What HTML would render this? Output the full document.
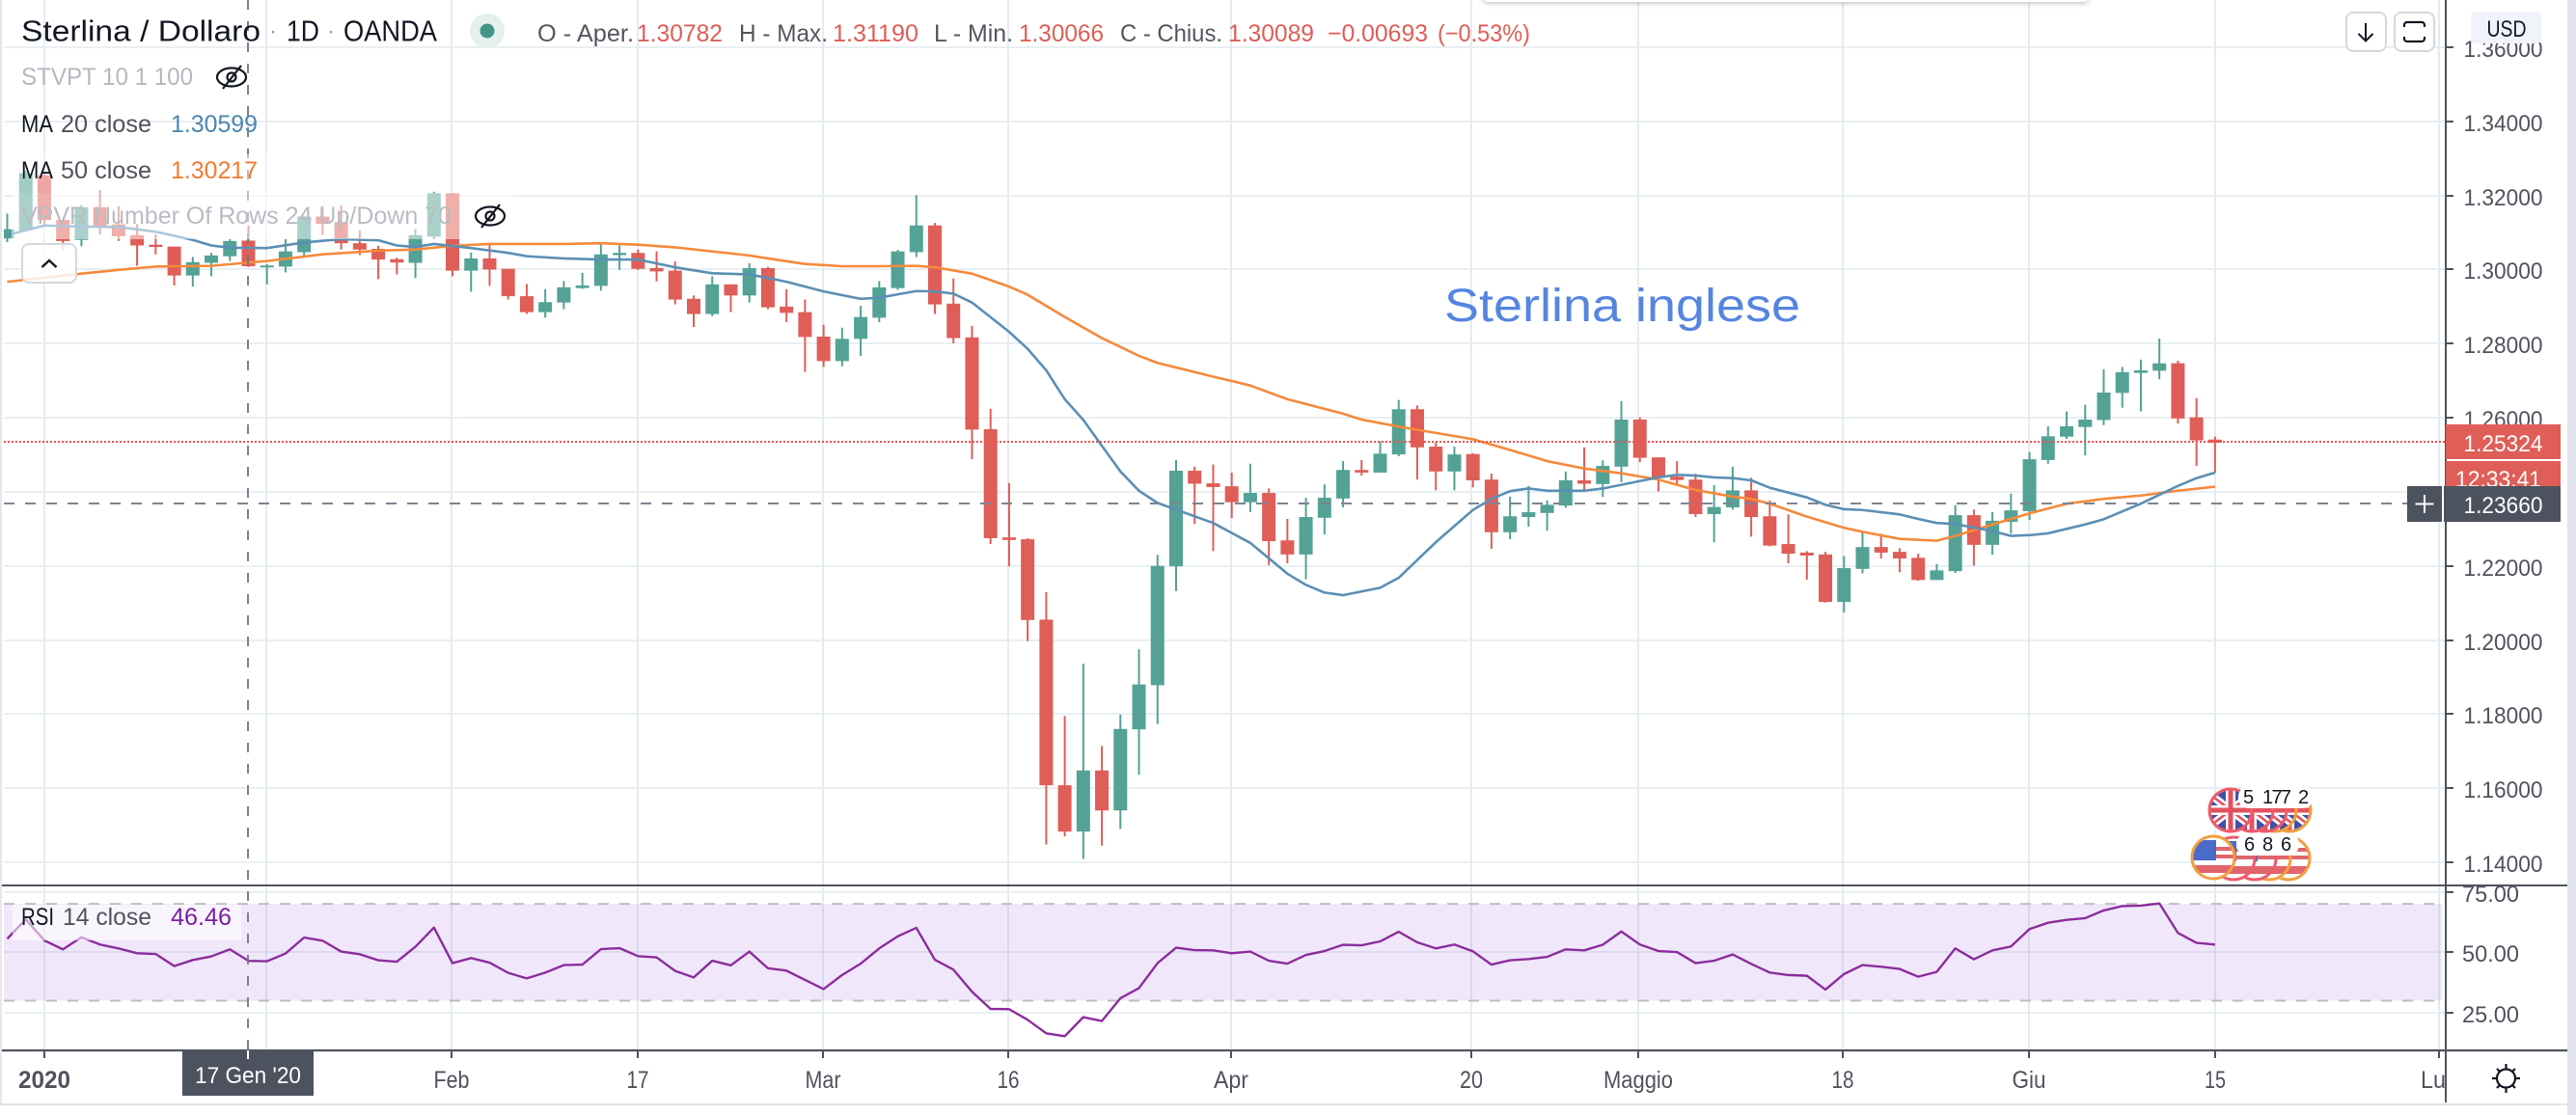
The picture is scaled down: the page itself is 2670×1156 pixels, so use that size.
<!DOCTYPE html>
<html lang="it">
<head>
<meta charset="utf-8">
<title>Sterlina / Dollaro 1D OANDA</title>
<style>
html,body{margin:0;padding:0;background:#fff;width:2670px;height:1156px;overflow:hidden}
svg{display:block;font-family:"Liberation Sans",sans-serif}
</style>
</head>
<body>
<svg id="chart" xmlns="http://www.w3.org/2000/svg" width="2670" height="1156" viewBox="0 0 2670 1156">
<defs>
<clipPath id="price-clip"><rect x="4" y="0" width="2531" height="917"/></clipPath>
<clipPath id="timer-clip"><rect x="2536" y="478" width="118" height="27"/></clipPath>
<clipPath id="lu-clip"><rect x="2490" y="1090" width="44" height="50"/></clipPath>
<clipPath id="flag-circle"><circle cx="0" cy="0" r="22"/></clipPath>
<g id="uk-flag">
<g clip-path="url(#flag-circle)">
<rect x="-22" y="-22" width="44" height="44" fill="#4350a8"/>
<path d="M-22 -17L22 17M22 -17L-22 17" stroke="#fff" stroke-width="8"/>
<path d="M-22 -17L22 17M22 -17L-22 17" stroke="#e3525f" stroke-width="2.5"/>
<path d="M0 -22V22M-22 0H22" stroke="#fff" stroke-width="10"/>
<path d="M0 -22V22M-22 0H22" stroke="#e3525f" stroke-width="5"/>
</g>
</g>
<g id="us-flag">
<g clip-path="url(#flag-circle)">
<rect x="-22" y="-22" width="44" height="44" fill="#fff"/>
<path d="M-22 -9H22M-22 -1H22" stroke="#e0656c" stroke-width="4"/>
<rect x="-22" y="8" width="44" height="8" fill="#e0656c"/>
<rect x="-22" y="-18" width="25" height="21" fill="#4a6bc8"/>
</g>
</g>
</defs>

<rect x="0" y="0" width="2670" height="1156" fill="#ffffff"/>
<rect x="0" y="0" width="2" height="1146" fill="#e4e7ee"/>
<rect x="2661" y="0" width="9" height="1156" fill="#e0e3eb"/>
<rect x="0" y="1144" width="2661" height="2" fill="#e0e3eb"/>

<g id="grid"></g>
<g id="rsi-pane"></g>
<g id="price-pane" clip-path="url(#price-clip)"></g>

<line x1="4" x2="2535" y1="458" y2="458" stroke="#e8554f" stroke-width="2" stroke-dasharray="2 2"/>
<line x1="4" x2="2535" y1="522" y2="522" stroke="#7c8490" stroke-width="2" stroke-dasharray="11 11"/>
<line x1="257" x2="257" y1="0" y2="1100" stroke="#6f7784" stroke-width="1.8" stroke-dasharray="10 12"/>

<text x="1497" y="333" font-size="48" fill="#5585e0" textLength="369" lengthAdjust="spacingAndGlyphs">Sterlina inglese</text>

<g>
<use href="#uk-flag" x="2373" y="840"/><circle cx="2373" cy="840" r="22" fill="none" stroke="#f0a040" stroke-width="3"/>
<use href="#uk-flag" x="2358" y="840"/><circle cx="2358" cy="840" r="22" fill="none" stroke="#f0a040" stroke-width="3"/>
<use href="#uk-flag" x="2348" y="840"/><circle cx="2348" cy="840" r="22" fill="none" stroke="#ee5b6a" stroke-width="3"/>
<use href="#uk-flag" x="2334" y="840"/><circle cx="2334" cy="840" r="22" fill="none" stroke="#ee5b6a" stroke-width="3"/>
<use href="#uk-flag" x="2312" y="840"/><circle cx="2312" cy="840" r="22" fill="none" stroke="#ee5b6a" stroke-width="3"/>
<rect x="2320" y="815" width="78" height="23" rx="11" fill="#ffffff"/>
<g font-size="20" fill="#131722">
<text x="2325" y="833">5</text>
<text x="2345" y="833" textLength="30" lengthAdjust="spacing">177</text>
<text x="2382" y="833">2</text>
</g>
<use href="#us-flag" x="2372" y="890"/><circle cx="2372" cy="890" r="22" fill="none" stroke="#f0a040" stroke-width="3"/>
<use href="#us-flag" x="2352" y="890"/><circle cx="2352" cy="890" r="22" fill="none" stroke="#f0a040" stroke-width="3"/>
<use href="#us-flag" x="2337" y="890"/><circle cx="2337" cy="890" r="22" fill="none" stroke="#ee5b6a" stroke-width="3"/>
<use href="#us-flag" x="2315" y="890"/><circle cx="2315" cy="890" r="22" fill="none" stroke="#ee5b6a" stroke-width="3"/>
<rect x="2318" y="864" width="65" height="23" rx="11" fill="#ffffff"/>
<use href="#us-flag" x="2294" y="889"/><circle cx="2294" cy="889" r="22" fill="none" stroke="#f0a040" stroke-width="3"/>
<g font-size="20" fill="#131722">
<text x="2326" y="882">6</text>
<text x="2345" y="882">8</text>
<text x="2364" y="882">6</text>
</g>
</g>

<!-- legend overlays -->
<rect x="12" y="160" width="270" height="40" fill="#fff" fill-opacity="0.45"/>
<rect x="12" y="200" width="525" height="48" fill="#fff" fill-opacity="0.5"/>

<g>
<text x="22" y="42.5" font-size="31" fill="#131722" textLength="248" lengthAdjust="spacingAndGlyphs">Sterlina / Dollaro</text>
<text x="279" y="40" font-size="24" fill="#9598a1">·</text>
<text x="297" y="42.5" font-size="31" fill="#131722" textLength="34" lengthAdjust="spacingAndGlyphs">1D</text>
<text x="339" y="40" font-size="24" fill="#9598a1">·</text>
<text x="356" y="42.5" font-size="31" fill="#131722" textLength="97" lengthAdjust="spacingAndGlyphs">OANDA</text>
<circle cx="505" cy="32" r="18" fill="#e3f0ee"/>
<circle cx="505" cy="32" r="7.5" fill="#419588"/>
<text x="557" y="43" font-size="25" fill="#53565f" textLength="100" lengthAdjust="spacingAndGlyphs">O - Aper.</text>
<text x="660" y="43" font-size="25" fill="#de5e57" textLength="89" lengthAdjust="spacingAndGlyphs">1.30782</text>
<text x="766" y="43" font-size="25" fill="#53565f" textLength="92" lengthAdjust="spacingAndGlyphs">H - Max.</text>
<text x="863" y="43" font-size="25" fill="#de5e57" textLength="89" lengthAdjust="spacingAndGlyphs">1.31190</text>
<text x="968" y="43" font-size="25" fill="#53565f" textLength="82" lengthAdjust="spacingAndGlyphs">L - Min.</text>
<text x="1056" y="43" font-size="25" fill="#de5e57" textLength="88" lengthAdjust="spacingAndGlyphs">1.30066</text>
<text x="1161" y="43" font-size="25" fill="#53565f" textLength="106" lengthAdjust="spacingAndGlyphs">C - Chius.</text>
<text x="1273" y="43" font-size="25" fill="#de5e57" textLength="89" lengthAdjust="spacingAndGlyphs">1.30089</text>
<text x="1376" y="43" font-size="25" fill="#de5e57" textLength="104" lengthAdjust="spacingAndGlyphs">−0.00693</text>
<text x="1490" y="43" font-size="25" fill="#de5e57" textLength="96" lengthAdjust="spacingAndGlyphs">(−0.53%)</text>
</g>

<g>
<text x="22" y="88" font-size="25" fill="#b5b8c0" textLength="178" lengthAdjust="spacingAndGlyphs">STVPT 10 1 100</text>
<g fill="none" stroke="#131722" stroke-width="2.2">
<ellipse cx="240" cy="80" rx="15" ry="9.5"/><circle cx="240" cy="80" r="4.5"/><line x1="231" y1="92" x2="250" y2="68"/>
</g>
<text x="22" y="137" font-size="25" fill="#131722" textLength="33" lengthAdjust="spacingAndGlyphs">MA</text>
<text x="63" y="137" font-size="25" fill="#50535e" textLength="94" lengthAdjust="spacingAndGlyphs">20 close</text>
<text x="177" y="137" font-size="25" fill="#4a87b0" textLength="90" lengthAdjust="spacingAndGlyphs">1.30599</text>
<text x="22" y="185" font-size="25" fill="#131722" textLength="33" lengthAdjust="spacingAndGlyphs">MA</text>
<text x="63" y="185" font-size="25" fill="#50535e" textLength="94" lengthAdjust="spacingAndGlyphs">50 close</text>
<text x="177" y="185" font-size="25" fill="#f47b30" textLength="90" lengthAdjust="spacingAndGlyphs">1.30217</text>
<text x="22" y="232" font-size="25" fill="#b9bcc4" textLength="446" lengthAdjust="spacingAndGlyphs">VPVR Number Of Rows 24 Up/Down 70</text>
<g fill="none" stroke="#131722" stroke-width="2.2">
<ellipse cx="508" cy="224" rx="15" ry="9.5"/><circle cx="508" cy="224" r="4.5"/><line x1="499" y1="236" x2="518" y2="212"/>
</g>
<rect x="23" y="253" width="56" height="40" rx="7" fill="#fff" fill-opacity="0.82" stroke="#d6d8de" stroke-width="2"/>
<path d="M43.5 277L51 270L58.5 277" fill="none" stroke="#131722" stroke-width="2.4"/>
</g>

<rect x="1537" y="-12" width="628" height="14" rx="5" fill="#fff" style="filter:drop-shadow(0 1px 3px rgba(40,50,70,.35))"/>

<rect x="13" y="938" width="237" height="37" fill="#fff" fill-opacity="0.55"/>
<g>
<text x="22" y="959" font-size="25" fill="#131722" textLength="34" lengthAdjust="spacingAndGlyphs">RSI</text>
<text x="65" y="959" font-size="25" fill="#50535e" textLength="92" lengthAdjust="spacingAndGlyphs">14 close</text>
<text x="177" y="959" font-size="25" fill="#7b1fa2" textLength="63" lengthAdjust="spacingAndGlyphs">46.46</text>
</g>

<g>
<rect x="2" y="917" width="2659" height="2" fill="#50535e"/>
<rect x="2" y="1088" width="2659" height="2.2" fill="#50535e"/>
<rect x="2534" y="0" width="2" height="1143" fill="#50535e"/>
</g>
<g id="axes"></g>

<g>
<rect x="2535" y="440" width="119" height="36" fill="#df5e57"/>
<rect x="2535" y="478" width="119" height="28" fill="#df5e57"/>
<text x="2553.5" y="468" font-size="24" fill="#ffffff" textLength="82" lengthAdjust="spacingAndGlyphs">1.25324</text>
<g clip-path="url(#timer-clip)"><text x="2545" y="505" font-size="24" fill="#ffffff" textLength="89" lengthAdjust="spacingAndGlyphs">12:33:41</text></g>
</g>
<g>
<rect x="2495" y="504" width="36" height="37" fill="#4c525e"/>
<path d="M2513 513V532M2503.5 522.5H2522.5" stroke="#fff" stroke-width="2"/>
<rect x="2533" y="504" width="121" height="37" fill="#4c525e"/>
<text x="2553.5" y="532" font-size="24" fill="#ffffff" textLength="82" lengthAdjust="spacingAndGlyphs">1.23660</text>
</g>
<g>
<rect x="189" y="1089" width="136" height="47" fill="#4c525e"/>
<line x1="257" x2="257" y1="1089" y2="1098" stroke="#fff" stroke-width="2"/>
<text x="202" y="1123" font-size="24" fill="#ffffff" textLength="110" lengthAdjust="spacingAndGlyphs">17 Gen '20</text>
</g>

<g>
<rect x="2432" y="13" width="41" height="40" rx="7" fill="#fff" stroke="#d6d8de" stroke-width="2"/>
<path d="M2452 24V42M2444.5 35L2452 42.5L2459.5 35" fill="none" stroke="#131722" stroke-width="2"/>
</g>
<g>
<rect x="2482" y="13" width="41" height="40" rx="7" fill="#fff" stroke="#d6d8de" stroke-width="2"/>
<path d="M2492 28V26a3 3 0 0 1 3-3H2510a3 3 0 0 1 3 3V28M2492 38V40a3 3 0 0 0 3 3H2510a3 3 0 0 0 3-3V38" fill="none" stroke="#131722" stroke-width="2.2"/>
</g>
<g>
<rect x="2561" y="12" width="73" height="33" rx="4" fill="#f0f3fa"/>
<text x="2577.5" y="38" font-size="24" fill="#131722" textLength="41" lengthAdjust="spacingAndGlyphs">USD</text>
</g>
<g fill="none" stroke="#131722" stroke-width="2.2">
<circle cx="2597.5" cy="1118" r="9.5"/>
<path d="M2597.5 1103V1108.5M2597.5 1127.5V1133M2583 1118H2588M2607 1118H2612M2588 1108L2591 1111M2604 1125L2607 1128M2607 1108L2604 1111M2591 1125L2588 1128"/>
</g>

<script>
const opens=[1.3084,1.3106,1.3254,1.3134,1.3080,1.3168,1.3122,1.3093,1.3067,1.3062,
1.2984,1.3018,1.3036,1.30782,1.3006,1.3008,1.3047,1.3143,1.3128,1.3071,
1.3056,1.3028,1.3018,1.3089,1.3206,1.2997,1.3030,1.3002,1.2928,1.2885,
1.2911,1.2950,1.2956,1.3039,1.3045,1.3004,1.2997,1.2921,1.2880,1.2960,
1.2930,1.3004,1.2900,1.2885,1.2819,1.2753,1.2813,1.2870,1.2950,1.3047,
1.3119,1.2908,1.2817,1.2569,1.2277,1.2272,1.2055,1.1608,1.1483,1.1648,
1.1540,1.1759,1.1878,1.2199,1.2457,1.2423,1.2415,1.2372,1.2397,1.2269,
1.2231,1.2330,1.2382,1.2459,1.2452,1.2501,1.2623,1.2522,1.2455,1.2502,
1.2433,1.2291,1.2332,1.2343,1.2363,1.2431,1.2421,1.2468,1.2595,1.2493,
1.2441,1.2433,1.2340,1.2358,1.2404,1.2334,1.2259,1.2236,1.2231,1.2103,
1.2192,1.2251,1.2238,1.2222,1.2162,1.2186,1.2337,1.2257,1.2319,1.2348,
1.2486,1.2549,1.2575,1.2594,1.2667,1.2721,1.2727,1.2747,1.2601,1.2541];
const highs=[1.3151,1.3267,1.3258,1.3136,1.3174,1.3214,1.3171,1.3123,1.3095,1.3062,
1.3034,1.3045,1.3082,1.3119,1.3015,1.3082,1.3145,1.3171,1.3174,1.3106,
1.3064,1.3032,1.3110,1.3210,1.3206,1.3046,1.3067,1.3002,1.2961,1.2947,
1.2969,1.2991,1.3070,1.3065,1.3054,1.3049,1.3022,1.2930,1.2982,1.2960,
1.3017,1.3007,1.2947,1.2919,1.2851,1.2843,1.2902,1.2969,1.3053,1.3201,
1.3126,1.2976,1.2848,1.2624,1.2424,1.2275,1.2129,1.1795,1.1936,1.1714,
1.1799,1.1975,1.2230,1.2486,1.2468,1.2474,1.2452,1.2476,1.2409,1.2327,
1.2384,1.2420,1.2483,1.2486,1.2537,1.2648,1.2633,1.2533,1.2522,1.2504,
1.2449,1.2387,1.2416,1.2377,1.2455,1.2520,1.2485,1.2645,1.2601,1.2493,
1.2483,1.2449,1.2418,1.2468,1.2438,1.2377,1.2339,1.2240,1.2238,1.2227,
1.2294,1.2287,1.2248,1.2233,1.2205,1.2364,1.2352,1.2345,1.2395,1.2507,
1.2577,1.2617,1.2635,1.2731,1.2737,1.2757,1.2814,1.2754,1.2653,1.2549];
const lows=[1.3074,1.3103,1.3115,1.3054,1.3063,1.3095,1.3077,1.3010,1.3041,1.2957,
1.2954,1.2982,1.3023,1.30066,1.2960,1.2992,1.3035,1.3093,1.3054,1.3039,
1.2974,1.2987,1.2977,1.3082,1.2982,1.2940,1.2956,1.2919,1.2880,1.2870,
1.2893,1.2948,1.2943,1.2999,1.2999,1.2968,1.2906,1.2845,1.2874,1.2885,
1.2911,1.2893,1.2858,1.2724,1.2737,1.2739,1.2767,1.2858,1.2945,1.3034,
1.2880,1.2801,1.2488,1.2259,1.2199,1.1997,1.1448,1.1470,1.1409,1.1445,
1.1490,1.1636,1.1773,1.2132,1.2313,1.2240,1.2329,1.2345,1.2202,1.2207,
1.2164,1.2285,1.2358,1.2444,1.2452,1.2496,1.2433,1.2404,1.2404,1.2412,
1.2246,1.2272,1.2306,1.2295,1.2357,1.2402,1.2386,1.2426,1.2480,1.2401,
1.2419,1.2332,1.2264,1.2352,1.2279,1.2253,1.2207,1.2163,1.2101,1.2074,
1.2180,1.2220,1.2183,1.2160,1.2162,1.2181,1.2201,1.2230,1.2287,1.2324,
1.2476,1.2543,1.2498,1.2580,1.2627,1.2617,1.2704,1.2584,1.2470,1.2452];
const closes=[1.3109,1.3260,1.3134,1.3077,1.3168,1.3116,1.3090,1.3065,1.3061,1.2984,
1.3020,1.3038,1.3077,1.30089,1.3011,1.3049,1.3143,1.3123,1.3071,1.3054,
1.3027,1.3019,1.3093,1.3206,1.2997,1.3030,1.3000,1.2928,1.2885,1.2912,
1.2952,1.2957,1.3041,1.3045,1.3002,1.2995,1.2919,1.2880,1.2960,1.2930,
1.3004,1.2898,1.2883,1.2818,1.2753,1.2813,1.2872,1.2952,1.3049,1.3119,
1.2906,1.2815,1.2568,1.2275,1.2270,1.2054,1.1608,1.1483,1.1648,1.1540,
1.1760,1.1880,1.2200,1.2457,1.2422,1.2413,1.2372,1.2397,1.2267,1.2231,
1.2332,1.2384,1.2459,1.2452,1.2503,1.2623,1.2520,1.2455,1.2501,1.2431,
1.2291,1.2334,1.2345,1.2365,1.2431,1.2422,1.2470,1.2595,1.2492,1.2438,
1.2432,1.2340,1.2359,1.2404,1.2332,1.2255,1.2233,1.2228,1.2103,1.2194,
1.2251,1.2236,1.2220,1.2162,1.2188,1.2337,1.2257,1.2322,1.2350,1.2488,
1.2550,1.2577,1.2595,1.2668,1.2723,1.2728,1.2747,1.2598,1.2539,1.25324];

const ma20Bars=[0,2,4,6,8,10,11,12,14,16,18,20,21,22,23,25,27,28,30,32,34,36,38,40,42,44,46,47,49,50,51,52,54,55,56,57,58,59,60,61,62,63,65,67,69,70,71,72,74,75,77,79,80,81,82,83,85,86,88,89,90,91,92,93,94,95,97,98,99,100,102,103,104,105,107,108,109,110,112,113,115,117,118,119];
const ma20Values=[1.3093,1.3119,1.3116,1.3115,1.3102,1.3080,1.3065,1.3059,1.3058,1.3073,1.3082,1.3079,1.3065,1.3061,1.3069,1.3058,1.3045,1.3036,1.3030,1.3027,1.3027,1.3006,1.2990,1.2987,1.2967,1.2941,1.2921,1.2924,1.2942,1.2941,1.2935,1.2911,1.2832,1.2786,1.2728,1.2650,1.2594,1.2524,1.2455,1.2403,1.2370,1.2352,1.2316,1.2262,1.2179,1.2149,1.2128,1.2121,1.2141,1.2168,1.2264,1.2351,1.2381,1.2402,1.2409,1.2403,1.2403,1.2409,1.2429,1.2439,1.2446,1.2444,1.2439,1.2437,1.2431,1.2411,1.2385,1.2365,1.2353,1.2351,1.2339,1.2327,1.2316,1.2313,1.2294,1.2281,1.2283,1.2288,1.2312,1.2326,1.2368,1.2416,1.2437,1.2452];
const ma50Bars=[0,2,4,6,8,11,14,17,20,22,24,26,30,32,34,36,38,40,41,43,45,47,49,50,52,54,55,57,59,61,62,65,67,69,72,73,75,77,79,81,83,85,87,89,91,93,94,95,97,99,100,102,104,105,107,109,111,113,115,117,119];
const ma50Values=[1.2967,1.2978,1.2989,1.2999,1.3008,1.3010,1.3023,1.3041,1.3051,1.3054,1.3064,1.3069,1.3069,1.3071,1.3067,1.3060,1.3049,1.3038,1.3030,1.3015,1.3009,1.3009,1.3010,1.3006,1.2989,1.2954,1.2932,1.2872,1.2815,1.2767,1.2748,1.2711,1.2687,1.2650,1.2611,1.2595,1.2576,1.2559,1.2542,1.2513,1.2483,1.2463,1.2450,1.2433,1.2405,1.2387,1.2381,1.2368,1.2333,1.2303,1.2292,1.2273,1.2268,1.2281,1.2312,1.2342,1.2368,1.2381,1.2390,1.2403,1.2414];

const rsiValues=[55.6,63.6,54.9,51.2,56.2,53.2,51.6,49.6,49.3,44.3,46.8,48.3,51.2,46.46,46.3,49.5,56.1,54.8,50.3,49.2,
46.7,46.1,52.3,60.2,45.5,47.6,45.7,41.5,39.2,41.6,44.7,44.9,51.3,51.7,48.4,47.9,42.3,39.6,46.5,44.6,
50.3,43.4,42.4,38.6,34.8,40.6,45.3,51.6,56.6,60.1,46.9,42.8,33.7,26.6,26.5,22.1,16.5,15.3,23.2,21.6,
31,35.2,45.5,51.9,50.9,50.8,49.6,50.3,46.5,45.3,48.9,50.5,53.1,52.9,54.5,58.5,54.1,51.6,53.2,50.4,
44.9,46.7,47.2,48.1,51.2,50.8,53.1,58.6,53.2,50.5,50.1,45.5,46.5,49.1,45.2,41.6,40.6,40.3,34.6,41,
44.7,44,43.1,39.9,41.9,51.6,47.1,50.8,52.4,59.6,62.2,63.4,64.1,67.3,69.1,69.3,70.2,58,53.9,53.2];

const priceTicks=[1.36,1.34,1.32,1.30,1.28,1.26,1.24,1.22,1.20,1.18,1.16,1.14];
const priceTickLabels=["1.36000","1.34000","1.32000","1.30000","1.28000","1.26000","1.24000","1.22000","1.20000","1.18000","1.16000","1.14000"];
const rsiTicks=[75,50,25];
const rsiTickLabels=["75.00","50.00","25.00"];
const rsiBands=[70,30];
const timeTickLabels=["2020","","Feb","17","Mar","16","Apr","20","Maggio","18","Giu","15","Lu"];

const SVGNS="http://www.w3.org/2000/svg";
const barX=i=>7.5+19.23*i;
const priceY=p=>Math.round(49+(1.36-p)*3841);
const candleY=p=>49+(1.36-p)*3841;
const rsiY=v=>987.3-(v-50)*2.5083;
const make=(tag,parent,attrs)=>{const e=document.createElementNS(SVGNS,tag);for(const k in attrs)e.setAttribute(k,attrs[k]);parent.appendChild(e);return e;};

const grid=document.getElementById('grid');
const axes=document.getElementById('axes');
const pricePane=document.getElementById('price-pane');
const rsiPane=document.getElementById('rsi-pane');

priceTicks.forEach((p,k)=>{
  const y=priceY(p);
  const line=make('line',grid,{x1:4,x2:2534,y1:y,y2:y,stroke:'#e9eff3','stroke-width':2});
  
  
  const tick=make('line',axes,{x1:2535,x2:2543,y1:y,y2:y,stroke:'#50535e','stroke-width':2});
  
  
  const t=make('text',axes,{x:2553.5,y:y+10,'font-size':24,fill:'#50535e',textLength:82,lengthAdjust:'spacingAndGlyphs'});
  
  
  t.textContent=priceTickLabels[k];
});
rsiTicks.forEach((v,k)=>{
  const y=Math.round(rsiY(v));
  const line=make('line',grid,{x1:4,x2:2534,y1:y,y2:y,stroke:'#e9eff3','stroke-width':2});
  
  
  const tick=make('line',axes,{x1:2535,x2:2543,y1:y,y2:y,stroke:'#50535e','stroke-width':2});
  
  
  const t=make('text',axes,{x:2552,y:y+10,'font-size':24,fill:'#50535e',textLength:59,lengthAdjust:'spacingAndGlyphs'});
  
  
  t.textContent=rsiTickLabels[k];
});
const verticalX=[46,276,468,661,853,1045,1276,1525,1698,1910,2103,2296,2528];
const labelWidths=[54,0,37,23,37,23,36,24,72,23,35,22,26];
verticalX.forEach((x,k)=>{
  const line=make('line',grid,{x1:x,x2:x,y1:0,y2:1088,stroke:'#e5ecf1','stroke-width':2});
  
  
  if(k===1)return;
  const tick=make('line',axes,{x1:x,x2:x,y1:1089,y2:1097,stroke:'#50535e','stroke-width':2});
  
  
  const isLast=k===verticalX.length-1;
  const t=make('text',axes,{x:isLast?2509:x-labelWidths[k]/2,y:1128,'font-size':25,fill:'#50535e','font-weight':k===0?'bold':'normal',textLength:labelWidths[k],lengthAdjust:'spacingAndGlyphs'});
  
  
  if(isLast)t.setAttribute('clip-path','url(#lu-clip)');
  t.textContent=timeTickLabels[k];
});

// RSI pane
const rsiBg=make('rect',rsiPane,{x:4,y:rsiY(rsiBands[0]),width:2527,height:rsiY(rsiBands[1])-rsiY(rsiBands[0]),fill:'#945adc','fill-opacity':0.14});


rsiBands.forEach(v=>{
  const l=make('line',rsiPane,{x1:4,x2:2531,y1:rsiY(v),y2:rsiY(v),stroke:'#bdbdc2','stroke-width':2,'stroke-dasharray':'11 11'});
  
  
});
const rsiLine=make('polyline',rsiPane,{fill:'none',stroke:'#8c2d9d','stroke-width':2.4,'stroke-linejoin':'round',points:rsiValues.map((v,i)=>barX(i)+','+rsiY(v)).join(' ')});



// Candles
const UP='#53a295',DOWN='#df5e57';
opens.forEach((o,i)=>{
  const c=closes[i],col=c>=o?UP:DOWN,x=barX(i);
  const g=make('g',pricePane,{});
  
  
  make('rect',g,{x:x-1,y:candleY(highs[i]),width:2,height:candleY(lows[i])-candleY(highs[i]),fill:col});
  const top=candleY(Math.max(o,c)),bot=candleY(Math.min(o,c));
  make('rect',g,{x:x-7,y:top,width:14,height:Math.max(2,bot-top),fill:col});
});

// Moving averages
const ma50Line=make('polyline',pricePane,{fill:'none',stroke:'#f58a3c','stroke-width':2.6,'stroke-linejoin':'round',points:ma50Bars.map((b,k)=>barX(b)+','+candleY(ma50Values[k])).join(' ')});


const ma20Line=make('polyline',pricePane,{fill:'none',stroke:'#5b8fb5','stroke-width':2.6,'stroke-linejoin':'round',points:ma20Bars.map((b,k)=>barX(b)+','+candleY(ma20Values[k])).join(' ')});


</script>
</svg>
</body>
</html>
